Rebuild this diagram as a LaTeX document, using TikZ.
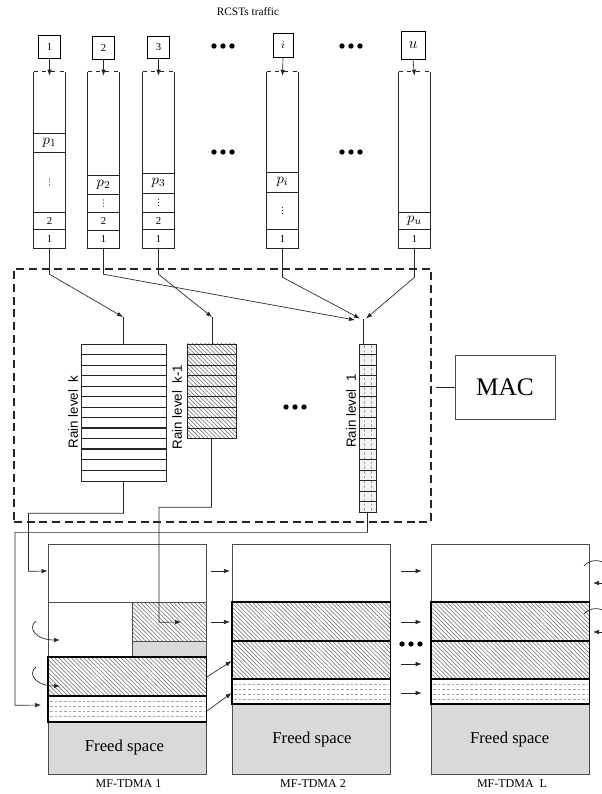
\documentclass[tikz,border=0pt]{standalone}
\usepackage{fontspec}
\setmainfont{Liberation Serif}
\newfontfamily\rainfont{Liberation Sans}
\usetikzlibrary{calc,patterns,patterns.meta,arrows.meta}

% small vertical dots in a queue cell, big dots between columns
\newcommand{\vdts}[2]{\foreach \k in {-1,0,1} {\fill[black!80] (#1,{#2+3*\k}) circle[radius=0.45pt];}}
\newcommand{\bigdots}[2]{\foreach \k in {-1,0,1} {\fill ({#1+9*\k},#2) circle[radius=2pt];}}

\tikzset{
  wire/.style={line width=0.5pt, draw=black!85},
  arr/.style={wire, -{Latex[length=4.5pt,width=3.4pt]}},
  srcbox/.style={draw, line width=0.6pt, inner sep=0pt, minimum width=16.5pt, minimum height=17pt, font=\fontsize{8}{9}\selectfont},
  qbox/.style={inner sep=0pt, minimum width=23.25pt, minimum height=132pt},
  cell/.style={inner sep=0pt, font=\fontsize{8}{9}\selectfont},
  pcell/.style={inner sep=0pt, font=\fontsize{11}{12}\selectfont},
  hatch/.style={pattern={Lines[angle=-45,distance=2.2pt,line width=0.4pt]}, pattern color=black!60},
  rainlabel/.style={rotate=90, inner sep=0pt, font=\rainfont\fontsize{10}{11}\selectfont},
  framebox/.style={draw=black!70, line width=0.6pt, inner sep=0pt},
  thickbox/.style={line width=1.4pt},
  freed/.style={fill=black!15},
  freedtxt/.style={font=\fontsize{12.5}{14}\selectfont},
  dotline/.style={draw=black!35, line width=0.4pt, dash pattern=on 2pt off 1.5pt},
  caption/.style={font=\fontsize{9}{10}\selectfont},
}

\begin{document}
\begin{tikzpicture}[x=0.75pt,y=-0.75pt]
\useasboundingbox (0,0) rectangle (602,794);

\node[caption] (title) at (248,12) {\fontsize{8.5}{10}\selectfont RCSTs traffic};

% sources
\node[srcbox] (s1) at (49.5,47) {1};
\node[srcbox] (s2) at (103.5,48) {2};
\node[srcbox] (s3) at (158.5,47.5) {3};
\node[srcbox, minimum width=15pt, minimum height=18pt] (si) at (283,45) {$i$};
\node[srcbox, minimum width=18pt, minimum height=21pt, font=\fontsize{12}{13}\selectfont] (su) at (413,45) {$u$};

\bigdots{223}{46}
\bigdots{351}{46}
\bigdots{223}{152}
\bigdots{351}{152}

% queues of the terminals
\foreach \name/\cx in {q1/49.5, q2/103.5, q3/158.5, qi/282.5, qu/414.5} {
  \node[qbox] (\name) at (\cx,160) {};
  \draw[wire] (\name.north west) -- (\name.south west) -- (\name.south east) -- (\name.north east);
  \draw[wire, dash pattern=on 3pt off 3.5pt] (\name.north west) -- (\name.north east);
}
\foreach \q/\ys in {q1/{133,152,212,229}, q2/{175,194,212,230}, q3/{173,193,212,229}, qi/{172,192,229}, qu/{212,229}} {
  \foreach \y in \ys {\draw[wire] (\q.west |- 0,\y) -- (\q.east |- 0,\y);}
}

\draw[arr] (s1.south) -- ([yshift=-3pt]q1.north);
\draw[arr] (s2.south) -- ([yshift=-3pt]q2.north);
\draw[arr] (s3.south) -- ([yshift=-3pt]q3.north);
\draw[arr] (si.south) -- ([yshift=-3pt]qi.north);
\draw[arr] (su.south) -- ([yshift=-3pt]qu.north);

\node[pcell] (p1) at (49.5,142.5) {$p_1$};
\vdts{49.5}{182}
\node[cell] (a2) at (49.5,220.5) {2};
\node[cell] (a1) at (49.5,238.5) {1};

\node[pcell] (p2) at (103.5,184.5) {$p_2$};
\vdts{103.5}{203}
\node[cell] (b2) at (103.5,221) {2};
\node[cell] (b1) at (103.5,239) {1};

\node[pcell] (p3) at (158.5,183) {$p_3$};
\vdts{158.5}{202.5}
\node[cell] (c2) at (158.5,220.5) {2};
\node[cell] (c1) at (158.5,238.5) {1};

\node[pcell] (pi) at (282.5,182) {$p_i$};
\vdts{282.5}{210.5}
\node[cell] (d1) at (282.5,238.5) {1};

\node[pcell] (pu) at (414.5,220.5) {$p_u$};
\node[cell] (e1) at (414.5,238.5) {1};

% MAC block
\node[draw=black!85, line width=1.1pt, dash pattern=on 6pt off 3.5pt, inner sep=0pt, minimum width=312.75pt, minimum height=189.75pt] (macbox) at (222.5,395.5) {};
\node[draw=black!70, line width=0.6pt, minimum width=75pt, minimum height=48pt, font=\fontsize{19}{20}\selectfont] (mac) at (505,387) {MAC};
\draw[wire, shorten <=3pt] (macbox.east |- mac.west) -- (mac.west);

% rain level queues
\node[draw=black!85, line width=0.5pt, inner sep=0pt, minimum width=63.75pt, minimum height=103.1pt] (rk) at (123.5,412.75) {};
\foreach \n in {1,...,12} {\draw[wire] (81,{344+10.5*\n}) -- (166,{344+10.5*\n});}
\draw[wire, line width=1.1pt] (81,428) -- (166,428) (81,449) -- (166,449);

\node[draw=black!85, line width=0.5pt, hatch, inner sep=0pt, minimum width=36.75pt, minimum height=70.9pt] (rk1) at (211.5,391.25) {};
\foreach \n in {1,...,8} {\draw[wire] (187,{344+10.5*\n}) -- (236,{344+10.5*\n});}

\node[draw=black!85, line width=0.5pt, fill=black!5, inner sep=0pt, minimum width=12.75pt, minimum height=126pt] (r1) at (367.5,428) {};
\draw[dotline] (364,345) -- (364,511) (371,345) -- (371,511);
\foreach \n in {1,...,15} {\draw[wire] (359,{344+10.5*\n}) -- (376,{344+10.5*\n});}

\node[rainlabel] (lk) at (73,412) {Rain level\ \ k};
\node[rainlabel] (lk1) at (177,407) {Rain level\ \ k-1};
\node[rainlabel] (l1) at (351,411) {Rain level\ \ 1};
\bigdots{295}{407}

% queues to rain levels
\coordinate (kin) at (123,317);
\coordinate (kmin) at (212,317);
\coordinate (onein) at (363,319);
\coordinate (in2) at (355,320);
\coordinate (ini) at (360,318.5);
\coordinate (inu) at (366,318.5);
\draw[arr] (q1.south) -- ++(0,26) -- (kin);
\draw[arr] (q3.south) -- ++(0,26) -- (kmin);
\draw[arr] (q2.south) -- ++(0,26) -- (in2);
\draw[arr] (qi.south) -- ++(0,29) -- (ini);
\draw[arr] (qu.south) -- ++(0,29) -- (inu);
\draw[wire] (kin) -- (kin |- rk.north);
\draw[wire] (kmin) -- (kmin |- rk1.north);
\draw[wire] (onein) -- (onein |- r1.north);

% MF-TDMA frame 1
\fill[freed] (48,722) rectangle (206.5,774);
\fill[freed] (132.5,641) rectangle (206.5,657);
\fill[hatch] (132.5,602) rectangle (206.5,641);
\node[framebox, minimum width=118.9pt, minimum height=172.5pt] (f1) at (127.25,659) {};
\draw[framebox] (48,602) -- (206.5,602) (132.5,602) -- (132.5,657) (132.5,641) -- (206.5,641);
\draw[thickbox, hatch] (48,657) rectangle (206.5,696);
\foreach \y in {701,706,711,716} {\draw[dotline] (50,\y) -- (204.5,\y);}
\draw[thickbox] (48,696) rectangle (206.5,722);
\node[freedtxt] (fs1) at (124.5,747) {Freed space};

% MF-TDMA frames 2 and L
\foreach \fx/\nm in {232/f2, 431/fL} {
  \fill[freed] (\fx,704) rectangle ({\fx+158.5},774);
  \node[framebox, minimum width=118.9pt, minimum height=172.5pt] (\nm) at ({\fx+79.25},659) {};
  \draw[thickbox, hatch] (\fx,602) rectangle ({\fx+158.5},641);
  \draw[thickbox, hatch] (\fx,641) rectangle ({\fx+158.5},679);
  \foreach \y in {684,689,694,699} {\draw[dotline] ({\fx+2},\y) -- ({\fx+156.5},\y);}
  \draw[thickbox] (\fx,679) rectangle ({\fx+158.5},704);
}
\node[freedtxt] (fs2) at (312,739) {Freed space};
\node[freedtxt] (fsL) at (509.7,739) {Freed space};

\node[caption] (t1) at (128.5,784) {MF-TDMA 1};
\node[caption] (t2) at (313,784) {MF-TDMA 2};
\node[caption] (tL) at (512,784) {MF-TDMA\ \ L};

% rain levels into frame 1
\coordinate (hin) at (181,622);
\coordinate (din) at (41,705);
\draw[arr] (rk.south) -- ++(0,31.5) -| ++(-95,58) -- (f1.west |- 0,571);
\draw[arr] (rk1.south) -- ++(0,68.5) -| ++(-52.5,115) -- (hin);
\draw[arr] (r1.south) -- ++(0,20) -| ++(-352.5,173) -- (din);

% reuse inside frame 1
\draw[arr] (36,621) .. controls (27,628) and (36,640) .. (60,640);
\draw[arr] (36,667) .. controls (27,674) and (36,686) .. (60,686);

% frame to frame
\draw[arr, shorten <=3.4pt, shorten >=1.2pt] (f1.east |- 0,571) -- (f2.west |- 0,571);
\draw[arr, shorten <=3.4pt, shorten >=1.2pt] (f1.east |- 0,622) -- (f2.west |- 0,622);
\draw[arr] (f1.east |- 0,677) -- (f2.west |- 0,661);
\draw[arr] (f1.east |- 0,711) -- (f2.west |- 0,693);
\foreach \y in {571,622,664,693} {\draw[arr, shorten <=7.9pt, shorten >=6.7pt] (f2.east |- 0,\y) -- (fL.west |- 0,\y);}
\bigdots{411}{644}

% reuse at the right of frame L
\draw[wire] (584,566) .. controls (590,559) and (600,559) .. (608,565);
\draw[arr] (608,583) -- (593,583);
\draw[wire] (584,614) .. controls (590,607) and (600,607) .. (608,613);
\draw[arr] (608,632) -- (593,632);
\end{tikzpicture}
\end{document}
